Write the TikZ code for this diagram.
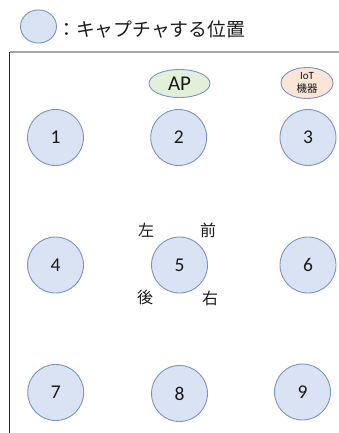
\documentclass[tikz,border=0pt]{standalone}
\usepackage{fontspec}
\usetikzlibrary{shapes.geometric}
\setmainfont{Carlito}
\newfontfamily\jp{Noto Sans CJK JP}
\definecolor{cfill}{HTML}{DAE3F3}
\definecolor{cline}{HTML}{7A93C4}
\definecolor{apfill}{HTML}{E2F0D9}
\definecolor{iotfill}{HTML}{FBE5D6}
\definecolor{txt}{HTML}{1A1A1A}
\begin{document}
\begin{tikzpicture}[x=1pt,y=-1pt,
  spot/.style={circle,draw=cline,fill=cfill,line width=0.9pt,minimum size=56pt,inner sep=0pt,text=txt,font=\fontsize{19.5}{19.5}\selectfont},
  dev/.style={ellipse,draw=cline,line width=0.9pt,inner sep=0pt,text=txt},
  dirlab/.style={text=txt,font=\jp\fontsize{16}{16}\selectfont,inner sep=0pt}]
\useasboundingbox (0,0) rectangle (339,433);
% legend
\node[circle,draw=cline,fill=cfill,line width=0.9pt,minimum width=36pt,inner sep=0pt,yscale=0.92] (leg) at (38.5,26.5) {};
\node[anchor=west,inner sep=0pt,text=txt,font=\jp\fontsize{18.8}{18.8}\selectfont] (legt) at (57,29) {：キャプチャする位置};
% frame
\coordinate (fc) at (9.5,52);
\coordinate (fr) at (339,52);
\coordinate (fb) at (9.5,433);
\draw[color=gray!70,line width=1.5pt] (fc) -- (fr);
\draw[color=black!85,line width=1pt] (fc) -- (fb);
% devices
\node[dev,fill=apfill,minimum width=61pt,minimum height=28pt,font=\fontsize{21}{21}\selectfont] (ap) at (179.5,83.5) {AP};
\node[dev,fill=iotfill,minimum width=52pt,minimum height=31pt,align=center,font=\fontsize{11}{13.5}\selectfont] (iot) at (307,83) {IoT\\{\jp\fontsize{10.5}{13.5}\selectfont 機器}};
% positions
\node[spot] (p1) at (55.5,137.5) {1};
\node[spot] (p2) at (178.7,137.5) {2};
\node[spot] (p3) at (308,137.5) {3};
\node[spot] (p4) at (55.5,265) {4};
\node[spot] (p5) at (179.5,265) {5};
\node[spot] (p6) at (308,265) {6};
\node[spot] (p7) at (55.7,392.5) {7};
\node[spot] (p8) at (179.5,393.5) {8};
\node[spot] (p9) at (302.5,392) {9};
% directions
\node[dirlab] (l) at (146,230) {左};
\node[dirlab] (f) at (208,230) {前};
\node[dirlab] (b) at (145,297) {後};
\node[dirlab] (r) at (210,298) {右};
\end{tikzpicture}
\end{document}
